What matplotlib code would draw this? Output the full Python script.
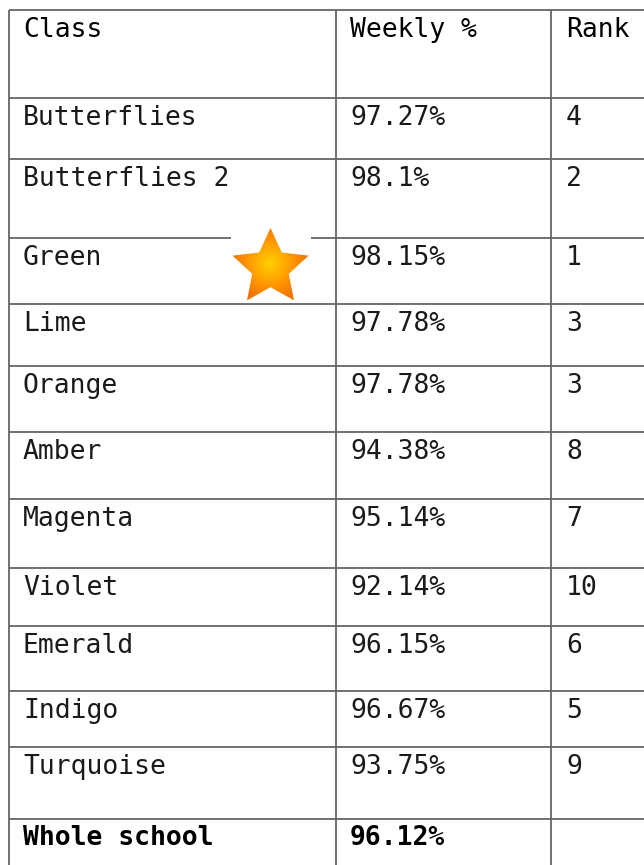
import numpy as np
import matplotlib
matplotlib.use("Agg")
import matplotlib.pyplot as plt
from matplotlib.patches import Polygon, Rectangle
from matplotlib.colors import LinearSegmentedColormap

headers = ["Class", "Weekly %", "Rank"]
classes = ["Butterflies", "Butterflies 2", "Green", "Lime", "Orange", "Amber",
           "Magenta", "Violet", "Emerald", "Indigo", "Turquoise"]
weekly = ["97.27%", "98.1%", "98.15%", "97.78%", "97.78%", "94.38%",
          "95.14%", "92.14%", "96.15%", "96.67%", "93.75%"]
ranks = ["4", "2", "1", "3", "3", "8", "7", "10", "6", "5", "9"]
total_label = "Whole school"
total_value = "96.12%"
star_class = "Green"

# layout (pixels)
W, H = 644, 865
row_lines = [10, 98, 159, 238, 304, 366, 432, 499, 568, 626, 691, 747, 819]
col_lines = [9, 336, 551]
text_x = [23, 350, 566]

fig = plt.figure(figsize=(W / 100, H / 100), dpi=100)
ax = fig.add_axes([0, 0, 1, 1])
ax.set_xlim(0, W)
ax.set_ylim(H, 0)
ax.axis("off")

line_kw = dict(color="#666666", lw=1.3, solid_capstyle="butt")
for y in row_lines:
    ax.plot([col_lines[0], W], [y, y], **line_kw)
for x in col_lines:
    ax.plot([x, x], [row_lines[0], H], **line_kw)

font = dict(family="DejaVu Sans Mono", fontsize=19)
for x, h in zip(text_x, headers):
    ax.text(x, row_lines[0] + 20, h, va="center", ha="left", color="black", **font)

for i, (c, w, r) in enumerate(zip(classes, weekly, ranks)):
    yc = row_lines[i + 1] + 20
    ax.text(text_x[0], yc, c, va="center", ha="left", color="#1a1a1a", **font)
    ax.text(text_x[1], yc, w, va="center", ha="left", color="#1a1a1a", **font)
    ax.text(text_x[2], yc, r, va="center", ha="left", color="#1a1a1a", **font)

yc = row_lines[-1] + 19
ax.text(text_x[0], yc, total_label, va="center", ha="left", color="black",
        fontweight="bold", **font)
ax.text(text_x[1], yc, total_value, va="center", ha="left", color="black",
        fontweight="bold", **font)

# star next to the winning class
si = classes.index(star_class)
cx, cy = 270.5, row_lines[si + 1] + 30
ax.add_patch(Rectangle((231, 228), 80, 75, facecolor="white",
                       edgecolor="none", zorder=3))
R = 40
r = 0.48 * R
ang = np.pi / 2 + np.arange(10) * np.pi / 5
rad = np.where(np.arange(10) % 2 == 0, R, r)
pts = np.column_stack([cx + rad * np.cos(ang), cy - rad * np.sin(ang)])
star = Polygon(pts, closed=True, facecolor="none", edgecolor="none", zorder=4)
ax.add_patch(star)
gx, gy = np.meshgrid(np.linspace(-R, R, 200), np.linspace(-R, R, 200))
dist = np.sqrt(gx ** 2 + (gy + 5) ** 2) / R
cmap = LinearSegmentedColormap.from_list("st", ["#ffd000", "#ffb000", "#ff9000", "#f07400"])
im = ax.imshow(dist, cmap=cmap, vmin=0, vmax=0.95,
               extent=[cx - R, cx + R, cy + R, cy - R], zorder=4,
               interpolation="bilinear")
im.set_clip_path(star)
ax.set_xlim(0, W)
ax.set_ylim(H, 0)

fig.savefig("out.png", dpi=100, facecolor="white")
